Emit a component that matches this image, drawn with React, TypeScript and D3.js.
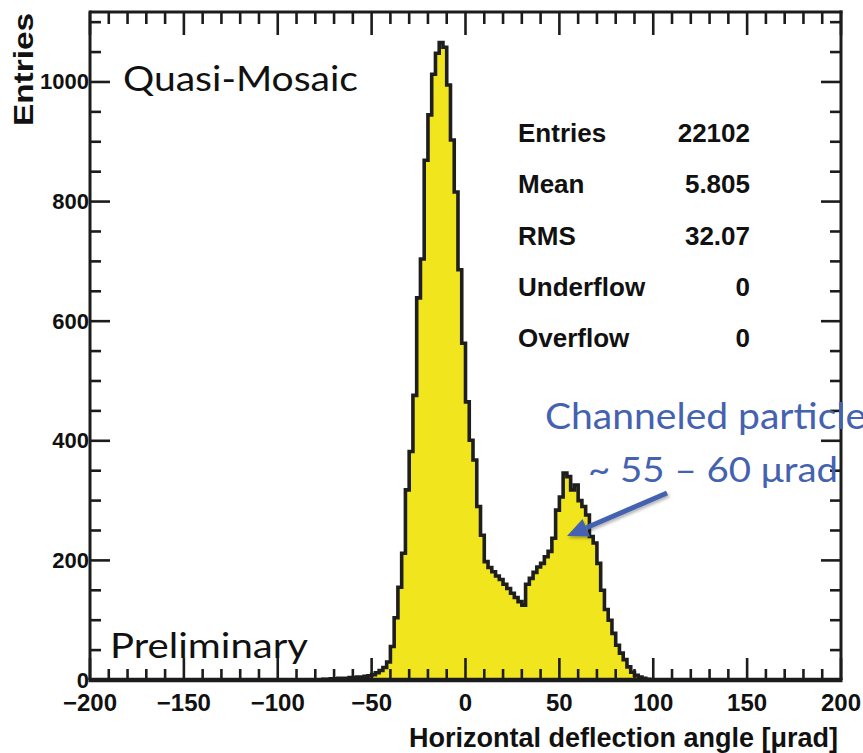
import React from "react";
import * as d3 from "d3";

// Histogram binning: 200 bins of 2 µrad between -200 and 200
const X_DOMAIN: [number, number] = [-200, 200];
const Y_MAX = 1117;
const BIN_WIDTH = 2;
// low edge of the first non-empty bin; counts follow in consecutive bins
const FIRST_FILLED_LOW_EDGE = -76;
const counts = [
  1, 1, 2, 2, 3, 3, 3, 4, 4, 5, 5, 6, 7, 9, 12, 16, 21, 30, 56, 104,
  155, 212, 318, 382, 476, 639, 704, 869, 945, 1013, 1048, 1066, 1058, 995, 903, 816, 686, 563, 465, 401,
  368, 290, 242, 198, 188, 181, 174, 168, 160, 153, 145, 138, 131, 125, 160, 170, 180, 189, 195, 206,
  215, 237, 284, 306, 346, 340, 318, 326, 300, 290, 276, 240, 229, 195, 150, 118, 100, 78, 58, 45,
  34, 22, 13, 8, 5, 3, 1,
];

const xMajorTicks = [-200, -150, -100, -50, 0, 50, 100, 150, 200];
const xMinorStep = 10;
const yMajorTicks = [0, 200, 400, 600, 800, 1000];
const yMinorStep = 50;

const statLabels = ["Entries", "Mean", "RMS", "Underflow", "Overflow"];
const statValues = ["22102", "5.805", "32.07", "0", "0"];

const W = 863;
const H = 753;
const frame = { left: 90, right: 841, top: 12, bottom: 680 };

const ROOT_FONT = "'Liberation Sans', Arial, Helvetica, sans-serif";
const NOTE_FONT = "Lato, 'Open Sans', 'Noto Sans', sans-serif";
const NOTE_BLUE = "#4462b0";

export default function App() {
  const x = d3.scaleLinear().domain(X_DOMAIN).range([frame.left, frame.right]);
  const y = d3.scaleLinear().domain([0, Y_MAX]).range([frame.bottom, frame.top]);

  const nBins = Math.round((X_DOMAIN[1] - X_DOMAIN[0]) / BIN_WIDTH);
  const firstIdx = Math.round((FIRST_FILLED_LOW_EDGE - X_DOMAIN[0]) / BIN_WIDTH);
  const bins = d3.range(nBins).map((i) => {
    const x0 = X_DOMAIN[0] + i * BIN_WIDTH;
    const k = i - firstIdx;
    const n = k >= 0 && k < counts.length ? counts[k] : 0;
    return { x0, x1: x0 + BIN_WIDTH, n };
  });

  const stepPts: [number, number][] = [[X_DOMAIN[0], 0]];
  bins.forEach((b) => {
    stepPts.push([b.x0, b.n]);
    stepPts.push([b.x1, b.n]);
  });
  stepPts.push([X_DOMAIN[1], 0]);
  const line = d3
    .line<[number, number]>()
    .x((d) => x(d[0]))
    .y((d) => y(d[1]));
  const outline = line(stepPts) || "";
  const fillPath = outline + "Z";

  const xMinor = d3.range(X_DOMAIN[0], X_DOMAIN[1] + 0.001, xMinorStep).filter((v) => !xMajorTicks.includes(v));
  const yMinor = d3.range(0, Y_MAX, yMinorStep).filter((v) => !yMajorTicks.includes(v));

  const tickColor = "#1c1c1c";
  const majLen = 21;
  const minLen = 11;

  // annotation arrow geometry
  const tail = [667, 493];
  const tip = [567, 536];
  const dx = tip[0] - tail[0];
  const dy = tip[1] - tail[1];
  const len = Math.hypot(dx, dy);
  const ux = dx / len;
  const uy = dy / len;
  const headL = 21;
  const headW = 9.5;
  const bx = tip[0] - headL * ux;
  const by = tip[1] - headL * uy;
  const head = `${tip[0]},${tip[1]} ${bx - headW * uy},${by + headW * ux} ${bx + headW * uy},${by - headW * ux}`;

  const fmt = (v: number) => (v < 0 ? "\u2212" + Math.abs(v) : String(v));

  return (
    <div style={{ position: "absolute", left: 0, top: 0 }}>
      <svg width={W} height={H} style={{ display: "block", background: "#fff" }}>
        <defs>
          <filter id="arrowShadow" x="-20%" y="-40%" width="140%" height="180%">
            <feDropShadow dx="1.5" dy="2" stdDeviation="1.6" floodColor="#000" floodOpacity="0.3" />
          </filter>
        </defs>

        {/* histogram */}
        <path d={fillPath} fill="#f1e51d" stroke="none" />
        <path d={outline} fill="none" stroke="#1e1e1e" strokeWidth={3.6} strokeLinejoin="miter" />

        {/* ticks */}
        <g stroke={tickColor} strokeWidth={2.6}>
          {xMajorTicks.map((v) => (
            <g key={"xm" + v}>
              <line x1={x(v)} x2={x(v)} y1={frame.bottom} y2={frame.bottom - majLen - 1} />
              <line x1={x(v)} x2={x(v)} y1={frame.top} y2={frame.top + majLen + 2} />
            </g>
          ))}
          {xMinor.map((v) => (
            <g key={"xn" + v}>
              <line x1={x(v)} x2={x(v)} y1={frame.bottom} y2={frame.bottom - minLen} />
              <line x1={x(v)} x2={x(v)} y1={frame.top} y2={frame.top + minLen + 1} />
            </g>
          ))}
          {yMajorTicks.map((v) => (
            <g key={"ym" + v}>
              <line x1={frame.left} x2={frame.left + majLen - 1} y1={y(v)} y2={y(v)} />
              <line x1={frame.right} x2={frame.right - majLen + 1} y1={y(v)} y2={y(v)} />
            </g>
          ))}
          {yMinor.map((v) => (
            <g key={"yn" + v}>
              <line x1={frame.left} x2={frame.left + minLen} y1={y(v)} y2={y(v)} />
              <line x1={frame.right} x2={frame.right - minLen} y1={y(v)} y2={y(v)} />
            </g>
          ))}
        </g>

        {/* frame */}
        <g stroke={tickColor} fill="none">
          <line x1={frame.left} x2={frame.left} y1={frame.top - 1.5} y2={frame.bottom} strokeWidth={3} />
          <line x1={frame.right} x2={frame.right} y1={frame.top - 1.5} y2={frame.bottom} strokeWidth={3} />
          <line x1={frame.left} x2={frame.right + 1.5} y1={frame.top} y2={frame.top} strokeWidth={3} />
          <line x1={frame.left - 1.5} x2={frame.right + 1.5} y1={frame.bottom} y2={frame.bottom} strokeWidth={4.5} />
        </g>

        {/* tick labels */}
        <g fontFamily={ROOT_FONT} fontWeight="bold" fill="#111">
          {xMajorTicks.map((v) => (
            <text key={"xl" + v} x={x(v)} y={711} fontSize={24} textAnchor="middle">
              {fmt(v)}
            </text>
          ))}
          {yMajorTicks.map((v) => (
            <text key={"yl" + v} x={frame.left - 1} y={y(v) + 7.5} fontSize={22} textAnchor="end">
              {fmt(v)}
            </text>
          ))}
        </g>

        {/* axis titles */}
        <text
          x={838}
          y={747}
          fontFamily={ROOT_FONT}
          fontWeight="bold"
          fontSize={27}
          textAnchor="end"
          fill="#111"
        >
          Horizontal deflection angle [μrad]
        </text>
        <text
          transform="translate(33,13) rotate(-90)"
          fontFamily={ROOT_FONT}
          fontWeight="bold"
          fontSize={28}
          textAnchor="end"
          textLength={113}
          lengthAdjust="spacingAndGlyphs"
          fill="#111"
        >
          Entries
        </text>

        {/* statistics box */}
        <g fontFamily={ROOT_FONT} fontWeight="bold" fontSize={26} fill="#111">
          {statLabels.map((s, i) => (
            <text key={"sl" + s} x={518} y={142 + i * 51.3}>
              {s}
            </text>
          ))}
          {statValues.map((s, i) => (
            <text key={"sv" + i} x={750} y={142 + i * 51.3} textAnchor="end">
              {s}
            </text>
          ))}
        </g>

        {/* labels */}
        <g fontFamily={NOTE_FONT} fill="#111">
          <text x={123} y={91} fontSize={34} textLength={235} lengthAdjust="spacingAndGlyphs">
            Quasi-Mosaic
          </text>
          <text x={110} y={658} fontSize={34} textLength={198} lengthAdjust="spacingAndGlyphs">
            Preliminary
          </text>
        </g>

        {/* annotation */}
        <g fontFamily={NOTE_FONT} fill={NOTE_BLUE}>
          <text x={545} y={429} fontSize={36} textLength={338} lengthAdjust="spacingAndGlyphs">
            Channeled particles
          </text>
          <text x={588} y={482} fontSize={35} textLength={250} lengthAdjust="spacingAndGlyphs">
            ~ 55 – 60 μrad
          </text>
        </g>
        <g filter="url(#arrowShadow)">
          <line x1={tail[0]} y1={tail[1]} x2={bx} y2={by} stroke={NOTE_BLUE} strokeWidth={5} />
          <polygon points={head} fill={NOTE_BLUE} />
        </g>
      </svg>
    </div>
  );
}
